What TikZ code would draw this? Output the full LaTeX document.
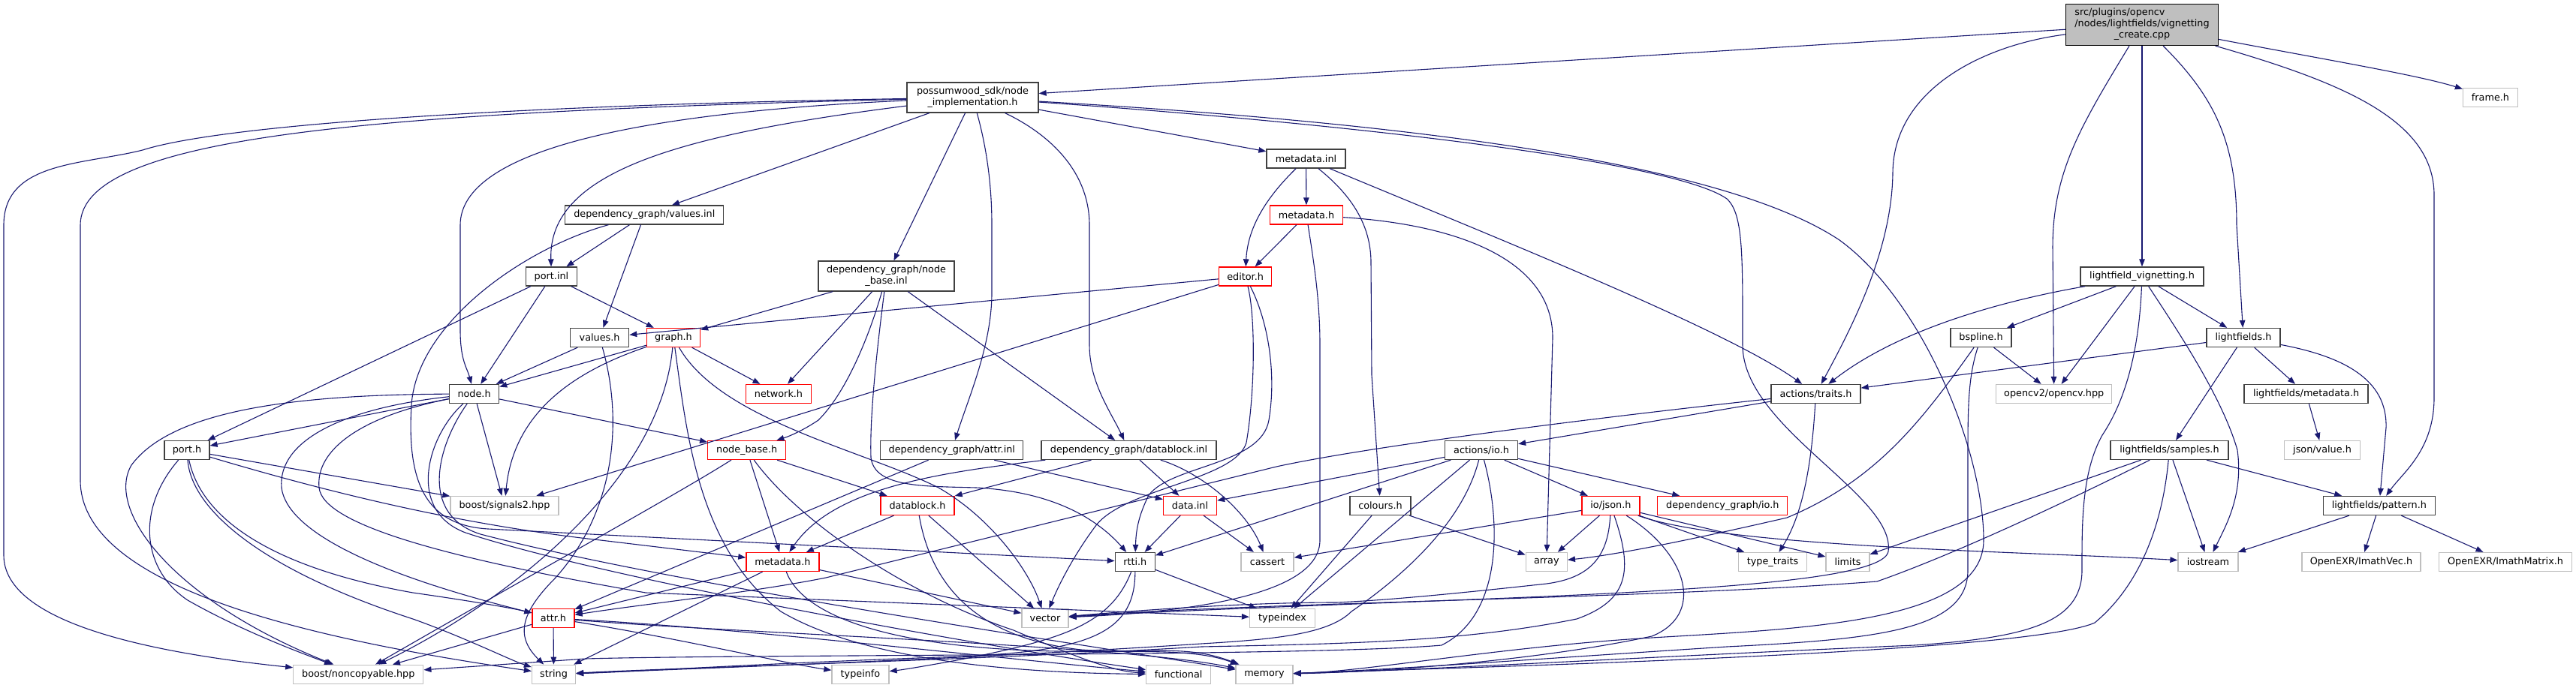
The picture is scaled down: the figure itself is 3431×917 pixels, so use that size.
\documentclass[tikz,border=0pt]{standalone}
\usepackage{fontspec}
\setmainfont{DejaVu Sans}
\usetikzlibrary{arrows.meta}
\definecolor{edgecol}{RGB}{25,25,112}
\definecolor{grayb}{RGB}{191,191,191}
\definecolor{redb}{RGB}{255,0,0}
\definecolor{darkb}{RGB}{64,64,64}
\definecolor{topfill}{RGB}{191,191,191}
\tikzset{
 box/.style={draw, line width=1.3pt, fill=white, inner sep=0pt, minimum height=25pt,
   font=\fontsize{12.8}{15}\selectfont, align=center},
 nb/.style={box, draw=darkb},
 nr/.style={box, draw=redb},
 ng/.style={box, draw=grayb},
 ntop/.style={box, draw=black, fill=topfill},
 dep/.style={draw=edgecol, line width=1.1pt, -{Triangle[length=10pt,width=7.5pt]}}
}
\begin{document}
\begin{tikzpicture}[x=1pt,y=-1pt]
\useasboundingbox (0,0) rectangle (3431,917);
% ---------- nodes ----------
\node[ntop, minimum width=203pt, minimum height=55pt] (T) at (2853,33) {\begin{tabular}{@{}l@{}}src/plugins/opencv\\/nodes/lightfields/vignetting\\\multicolumn{1}{@{}c@{}}{\_create.cpp}\end{tabular}};
\node[nb, minimum width=175pt, minimum height=40pt] (NI) at (1295.5,130) {possumwood\_sdk/node\\\_implementation.h};
\node[ng, minimum width=73pt] (FR) at (3317,130) {frame.h};
\node[nb, minimum width=211pt] (VI) at (858.3,286.5) {dependency\_graph/values.inl};
\node[nb, minimum width=105pt] (MI) at (1739.5,211.5) {metadata.inl};
\node[nr, minimum width=97pt] (MH1) at (1740,286.5) {metadata.h};
\node[nb, minimum width=181pt, minimum height=40pt] (NBI) at (1180.5,368) {dependency\_graph/node\\\_base.inl};
\node[nr, minimum width=70pt] (ED) at (1658.6,368.5) {editor.h};
\node[nb, minimum width=68pt] (PI) at (734.5,368.5) {port.inl};
\node[nb, minimum width=164pt] (LV) at (2853,368.5) {lightfield\_vignetting.h};
\node[nb, minimum width=78pt] (VH) at (798.6,450) {values.h};
\node[nr, minimum width=71pt] (GH) at (897,450) {graph.h};
\node[nb, minimum width=81pt] (BS) at (2638.5,450) {bspline.h};
\node[nb, minimum width=98pt] (LF) at (2988,450) {lightfields.h};
\node[nb, minimum width=66pt] (NH) at (631.6,525) {node.h};
\node[nr, minimum width=87pt] (NW) at (1037,525) {network.h};
\node[nb, minimum width=119pt] (AT) at (2418.5,525) {actions/traits.h};
\node[ng, minimum width=154pt] (OCV) at (2735.7,525) {opencv2/opencv.hpp};
\node[nb, minimum width=165pt] (LM) at (3071.6,525) {lightfields/metadata.h};
\node[nb, minimum width=60pt] (PH) at (249,600) {port.h};
\node[nr, minimum width=104pt] (NB) at (994.7,600) {node\_base.h};
\node[nb, minimum width=190pt] (AI) at (1267.8,600) {dependency\_graph/attr.inl};
\node[nb, minimum width=233pt] (DI) at (1503.5,600) {dependency\_graph/datablock.inl};
\node[nb, minimum width=97pt] (AIO) at (1973,600) {actions/io.h};
\node[nb, minimum width=157pt] (LS) at (2889.4,600) {lightfields/samples.h};
\node[ng, minimum width=101pt] (JV) at (3093,600) {json/value.h};
\node[ng, minimum width=144pt] (SIG) at (672,674) {boost/signals2.hpp};
\node[nr, minimum width=98pt] (DB) at (1222,674) {datablock.h};
\node[nr, minimum width=71pt] (DATA) at (1585,674) {data.inl};
\node[nb, minimum width=81pt] (COL) at (1838.5,674) {colours.h};
\node[nr, minimum width=77pt] (JSON) at (2145.4,674) {io/json.h};
\node[nr, minimum width=173pt] (DIO) at (2294.3,674) {dependency\_graph/io.h};
\node[nb, minimum width=149pt] (PAT) at (3168.8,674) {lightfields/pattern.h};
\node[nr, minimum width=97pt] (MH2) at (1042.4,749) {metadata.h};
\node[nb, minimum width=53pt] (RTTI) at (1511.8,749) {rtti.h};
\node[ng, minimum width=70pt] (CAS) at (1688,749) {cassert};
\node[ng, minimum width=55pt] (ARR) at (2059.8,749) {array};
\node[ng, minimum width=91pt] (TT) at (2361,749) {type\_traits};
\node[ng, minimum width=58pt] (LIM) at (2461,749) {limits};
\node[ng, minimum width=80pt] (IOS) at (2941,749) {iostream};
\node[ng, minimum width=158pt] (IMV) at (3145,749) {OpenEXR/ImathVec.h};
\node[ng, minimum width=177pt] (IMM) at (3337,749) {OpenEXR/ImathMatrix.h};
\node[ng, minimum width=62pt] (VEC) at (1392,824) {vector};
\node[ng, minimum width=87pt] (TIX) at (1708,824) {typeindex};
\node[nr, minimum width=56pt] (ATTR) at (737,824) {attr.h};
\node[ng, minimum width=173pt] (NC) at (477.3,898.8) {boost/noncopyable.hpp};
\node[ng, minimum width=58pt] (STR) at (737.5,898.8) {string};
\node[ng, minimum width=76pt] (TI) at (1146,898.8) {typeinfo};
\node[ng, minimum width=86pt] (FUN) at (1569.6,898.8) {functional};
\node[ng, minimum width=76pt] (MEM) at (1684,898.8) {memory};
% ---------- edges ----------
% top file
\draw[dep] (T) -- (NI);
\draw[dep] (T) .. controls (2640,60) and (2522,120) .. (2521,230) .. controls (2520,330) and (2470,430) .. (AT);
\draw[dep] (T) .. controls (2770,170) and (2734,230) .. (2734,330) -- (OCV);
\draw[dep] (T) -- (LV);
\draw[dep] (T) .. controls (2950,130) and (2979,190) .. (2979,300) -- (LF);
\draw[dep] (T) .. controls (3120,110) and (3242,160) .. (3242,260) -- (3242,530) .. controls (3242,600) and (3200,630) .. (PAT);
\draw[dep] (T) .. controls (3100,80) and (3220,100) .. (FR);
% node_implementation.h
\draw[dep] (NI) .. controls (700,140) and (300,165) .. (190,200) .. controls (110,220) and (5,215) .. (5,300) -- (5,740) .. controls (5,830) and (200,870) .. (NC);
\draw[dep] (NI) .. controls (500,150) and (107,180) .. (107,300) -- (107,640) .. controls (107,780) and (400,850) .. (STR);
\draw[dep] (NI) .. controls (850,150) and (613,200) .. (613,300) -- (613,440) .. controls (613,480) and (622,490) .. (NH);
\draw[dep] (NI) .. controls (900,180) and (730,230) .. (PI);
\draw[dep] (NI) -- (VI);
\draw[dep] (NI) -- (NBI);
\draw[dep] (NI) .. controls (1315,200) and (1321,250) .. (1321,300) -- (1321,390) .. controls (1321,460) and (1290,530) .. (AI);
\draw[dep] (NI) .. controls (1400,180) and (1451,230) .. (1451,300) -- (1451,460) .. controls (1451,510) and (1480,550) .. (DI);
\draw[dep] (NI) -- (MI);
\draw[dep] (NI) .. controls (1900,165) and (2300,220) .. (2450,320) .. controls (2560,400) and (2642,600) .. (2642,720) .. controls (2642,830) and (2400,838) .. (2200,850) .. controls (2000,862) and (1820,895) .. (MEM);
\draw[dep] (NI) .. controls (1800,165) and (2230,215) .. (2300,265) .. controls (2322,285) and (2321,340) .. (2321,460) .. controls (2321,570) and (2525,660) .. (2515,735) .. controls (2505,795) and (1900,795) .. (VEC);
% values.inl
\draw[dep] (VI) -- (PI);
\draw[dep] (VI) -- (VH);
\draw[dep] (VI) .. controls (700,330) and (555,430) .. (548,540) .. controls (542,640) and (565,700) .. (650,705) -- (RTTI);
% port.inl
\draw[dep] (PI) -- (NH);
\draw[dep] (PI) -- (GH);
\draw[dep] (PI) -- (PH);
% values.h
\draw[dep] (VH) -- (NH);
\draw[dep] (VH) .. controls (830,560) and (820,680) .. (740,770) .. controls (690,820) and (688,850) .. (STR);
% graph.h
\draw[dep] (GH) -- (NH);
\draw[dep] (GH) -- (NW);
\draw[dep] (GH) .. controls (780,490) and (685,540) .. (SIG);
\draw[dep] (GH) .. controls (915,580) and (930,730) .. (1040,815) .. controls (1150,880) and (1350,897) .. (FUN);
\draw[dep] (GH) .. controls (960,560) and (1150,600) .. (1250,650) .. controls (1320,690) and (1370,760) .. (VEC);
\draw[dep] (GH) .. controls (880,640) and (680,800) .. (NC);
% editor.h
\draw[dep] (ED) -- (VH);
\draw[dep] (ED) -- (SIG);
\draw[dep] (ED) .. controls (1672,420) and (1672,520) .. (1660,590) .. controls (1645,640) and (1500,650) .. (1460,700) .. controls (1430,740) and (1410,780) .. (VEC);
\draw[dep] (ED) .. controls (1690,430) and (1700,500) .. (1690,560) .. controls (1680,620) and (1560,620) .. (1530,660) .. controls (1515,690) and (1513,710) .. (RTTI);
% metadata.inl
\draw[dep] (MI) -- (MH1);
\draw[dep] (MI) .. controls (1690,260) and (1662,300) .. (ED);
\draw[dep] (MI) .. controls (1800,260) and (1826,300) .. (1826,350) -- (1827,500) -- (COL);
\draw[dep] (MI) .. controls (2000,320) and (2300,440) .. (AT);
% metadata.h (upper)
\draw[dep] (MH1) -- (ED);
\draw[dep] (MH1) .. controls (1750,350) and (1758,400) .. (1758,460) -- (1758,720) .. controls (1758,790) and (1600,815) .. (VEC);
\draw[dep] (MH1) .. controls (1950,300) and (2068,350) .. (2068,450) -- (ARR);
% node_base.inl
\draw[dep] (NBI) -- (GH);
\draw[dep] (NBI) .. controls (1160,440) and (1130,520) .. (1090,560) .. controls (1060,580) and (1040,585) .. (NB);
\draw[dep] (NBI) -- (NW);
\draw[dep] (NBI) .. controls (1170,450) and (1158,550) .. (1160,610) .. controls (1165,650) and (1230,648) .. (1300,650) .. controls (1400,655) and (1460,690) .. (RTTI);
\draw[dep] (NBI) -- (DI);
% node.h
\draw[dep] (NH) -- (PH);
\draw[dep] (NH) -- (SIG);
\draw[dep] (NH) -- (NB);
\draw[dep] (NH) .. controls (400,526) and (230,545) .. (175,620) .. controls (140,680) and (230,800) .. (NC);
\draw[dep] (NH) .. controls (450,545) and (370,590) .. (375,650) .. controls (385,730) and (600,790) .. (ATTR);
\draw[dep] (NH) .. controls (480,555) and (420,600) .. (425,650) .. controls (430,700) and (600,745) .. (860,790) -- (TIX);
\draw[dep] (NH) .. controls (570,580) and (540,680) .. (620,710) .. controls (800,770) and (1300,860) .. (FUN);
\draw[dep] (NH) .. controls (585,590) and (555,685) .. (640,712) .. controls (900,780) and (1450,860) .. (MEM);
% port.h
\draw[dep] (PH) -- (SIG);
\draw[dep] (PH) .. controls (450,660) and (620,700) .. (800,720) -- (MH2);
\draw[dep] (PH) .. controls (255,680) and (350,760) .. (550,825) .. controls (620,850) and (680,880) .. (STR);
\draw[dep] (PH) .. controls (270,700) and (380,760) .. (550,790) .. controls (620,800) and (680,810) .. (ATTR);
\draw[dep] (PH) .. controls (180,680) and (190,760) .. (250,800) .. controls (320,840) and (400,870) .. (NC);
% node_base.h
\draw[dep] (NB) .. controls (900,660) and (700,770) .. (NC);
\draw[dep] (NB) -- (MH2);
\draw[dep] (NB) .. controls (1060,690) and (1200,790) .. (1350,840) .. controls (1420,870) and (1480,895) .. (FUN);
\draw[dep] (NB) -- (DB);
% metadata.h (lower)
\draw[dep] (MH2) -- (ATTR);
\draw[dep] (MH2) -- (STR);
\draw[dep] (MH2) -- (VEC);
\draw[dep] (MH2) .. controls (1065,810) and (1150,855) .. (1350,866) .. controls (1480,873) and (1580,860) .. (MEM);
% attr.inl
\draw[dep] (AI) -- (ATTR);
\draw[dep] (AI) -- (DATA);
% datablock.inl
\draw[dep] (DI) .. controls (1250,630) and (1110,650) .. (MH2);
\draw[dep] (DI) -- (DB);
\draw[dep] (DI) -- (DATA);
\draw[dep] (DI) .. controls (1600,630) and (1660,680) .. (CAS);
% datablock.h
\draw[dep] (DB) -- (MH2);
\draw[dep] (DB) -- (VEC);
\draw[dep] (DB) .. controls (1240,780) and (1300,850) .. (1440,866) .. controls (1530,872) and (1580,858) .. (MEM);
% data.inl
\draw[dep] (DATA) -- (RTTI);
\draw[dep] (DATA) -- (CAS);
% rtti.h
\draw[dep] (RTTI) .. controls (1480,830) and (1420,850) .. (1300,875) .. controls (1250,885) and (1200,893) .. (TI);
\draw[dep] (RTTI) -- (TIX);
\draw[dep] (RTTI) .. controls (1512,850) and (1440,870) .. (1250,876) .. controls (1000,885) and (850,895) .. (STR);
% attr.h
\draw[dep] (ATTR) -- (NC);
\draw[dep] (ATTR) -- (STR);
\draw[dep] (ATTR) .. controls (900,850) and (1050,885) .. (TI);
\draw[dep] (ATTR) .. controls (1000,838) and (1350,880) .. (FUN);
\draw[dep] (ATTR) .. controls (1000,845) and (1500,860) .. (MEM);
% actions/traits.h
\draw[dep] (AT) -- (AIO);
\draw[dep] (AT) .. controls (2414,600) and (2405,680) .. (TT);
\draw[dep] (AT) .. controls (2050,565) and (1800,600) .. (1700,622) -- (1100,770) .. controls (1000,790) and (850,806) .. (ATTR);
% actions/io.h
\draw[dep] (AIO) -- (JSON);
\draw[dep] (AIO) -- (DIO);
\draw[dep] (AIO) -- (DATA);
\draw[dep] (AIO) -- (RTTI);
\draw[dep] (AIO) -- (TIX);
\draw[dep] (AIO) .. controls (1950,690) and (1880,760) .. (1800,815) .. controls (1770,845) and (1700,852) .. (1600,858) .. controls (1300,878) and (900,892) .. (STR);
\draw[dep] (AIO) .. controls (2000,700) and (2000,820) .. (1920,860) .. controls (1750,875) and (1000,872) .. (780,878) -- (NC);
% colours.h
\draw[dep] (COL) -- (ARR);
\draw[dep] (COL) -- (TIX);
% io/json.h
\draw[dep] (JSON) -- (CAS);
\draw[dep] (JSON) -- (ARR);
\draw[dep] (JSON) .. controls (2142,740) and (2120,770) .. (2060,778) .. controls (1950,790) and (1850,800) .. (1780,803) .. controls (1650,803) and (1500,815) .. (VEC);
\draw[dep] (JSON) .. controls (2175,760) and (2170,800) .. (2100,825) .. controls (1950,855) and (1800,858) .. (1600,862) .. controls (1300,880) and (900,890) .. (STR);
\draw[dep] (JSON) .. controls (2250,740) and (2270,820) .. (2200,848) .. controls (2050,880) and (1850,895) .. (MEM);
\draw[dep] (JSON) -- (TT);
\draw[dep] (JSON) -- (LIM);
\draw[dep] (JSON) .. controls (2300,730) and (2700,735) .. (IOS);
% lightfield_vignetting.h
\draw[dep] (LV) -- (BS);
\draw[dep] (LV) .. controls (2700,395) and (2540,430) .. (AT);
\draw[dep] (LV) -- (OCV);
\draw[dep] (LV) .. controls (2850,440) and (2840,520) .. (2800,580) .. controls (2772,630) and (2773,700) .. (2773,760) .. controls (2773,830) and (2700,850) .. (2550,860) .. controls (2200,875) and (1900,893) .. (MEM);
\draw[dep] (LV) .. controls (2900,440) and (2960,530) .. (2980,600) .. controls (2988,660) and (2965,700) .. (IOS);
\draw[dep] (LV) -- (LF);
% bspline.h
\draw[dep] (BS) -- (OCV);
\draw[dep] (BS) .. controls (2560,560) and (2500,640) .. (2380,690) .. controls (2250,720) and (2150,740) .. (ARR);
\draw[dep] (BS) .. controls (2622,500) and (2621,540) .. (2621,600) -- (2621,760) .. controls (2621,840) and (2500,852) .. (2300,862) .. controls (2050,878) and (1850,893) .. (MEM);
% lightfields.h
\draw[dep] (LF) -- (AT);
\draw[dep] (LF) -- (LS);
\draw[dep] (LF) -- (LM);
\draw[dep] (LF) .. controls (3120,475) and (3180,505) .. (3178,570) -- (PAT);
% lightfields/samples.h
\draw[dep] (LS) -- (LIM);
\draw[dep] (LS) .. controls (2750,670) and (2600,740) .. (2500,775) .. controls (2200,798) and (1700,802) .. (VEC);
\draw[dep] (LS) .. controls (2880,700) and (2850,780) .. (2790,830) .. controls (2700,870) and (2000,888) .. (MEM);
\draw[dep] (LS) -- (IOS);
\draw[dep] (LS) -- (PAT);
% others
\draw[dep] (LM) -- (JV);
\draw[dep] (PAT) -- (IOS);
\draw[dep] (PAT) -- (IMV);
\draw[dep] (PAT) -- (IMM);
\end{tikzpicture}
\end{document}
